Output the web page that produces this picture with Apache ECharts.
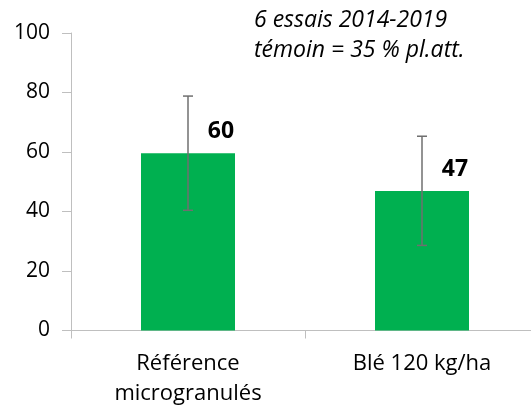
<!DOCTYPE html>
<html>
<head>
<meta charset="utf-8">
<script src="https://cdn.jsdelivr.net/npm/echarts@6/dist/echarts.min.js"></script>
<style>
  html, body { margin: 0; padding: 0; background: #fff; }
  #chart { width: 531px; height: 405px; }
</style>
</head>
<body>
<div id="chart"></div>
<script>
// données
var categories = ['Référence\nmicrogranulés', 'Blé 120 kg/ha'];
var efficacite = [59.6, 46.9];
var labels = ['60', '47'];
var errLow = [40.4, 28.6];
var errHigh = [78.8, 65.3];
var yTicks = [0, 20, 40, 60, 80, 100];

var font = '"Open Sans", "Noto Sans", sans-serif';
var chart = echarts.init(document.getElementById('chart'));

var option = {
    animation: false,
    backgroundColor: '#fff',
    graphic: [{
        type: 'text',
        left: 254,
        top: 5,
        style: {
            text: '6 essais 2014-2019\ntémoin = 35 % pl.att.',
            font: 'italic 23px ' + font,
            lineHeight: 30,
            fill: '#000'
        }
    }],
    grid: { left: 71, right: -8, top: 33, bottom: 74.5, outerBoundsMode: 'none', containLabel: false },
    xAxis: {
        type: 'category',
        data: categories,
        axisLine: { lineStyle: { color: '#bfbfbf', width: 1 } },
        axisTick: { show: true, length: 8, lineStyle: { color: '#bfbfbf' } },
        axisLabel: { color: '#000', fontSize: 22, fontFamily: font, lineHeight: 30, margin: 18 }
    },
    yAxis: {
        type: 'value',
        min: yTicks[0],
        max: yTicks[yTicks.length - 1],
        interval: 20,
        splitLine: { show: false },
        axisLine: { show: true, lineStyle: { color: '#bfbfbf', width: 1 } },
        axisTick: { show: true, length: 9, lineStyle: { color: '#bfbfbf' } },
        axisLabel: { color: '#000', fontSize: 21, fontFamily: font, margin: 21 }
    },
    series: [{
        type: 'bar',
        data: efficacite,
        barWidth: 94,
        itemStyle: { color: '#00b050' },
        label: {
            show: true,
            position: 'top',
            offset: [33, -5],
            formatter: function (p) { return labels[p.dataIndex]; },
            fontSize: 23,
            fontWeight: 'bold',
            fontFamily: font,
            color: '#000'
        }
    }, {
        type: 'custom',
        data: categories.map(function (c, i) { return [i, errLow[i], errHigh[i]]; }),
        z: 10,
        renderItem: function (params, api) {
            var lo = api.coord([api.value(0), api.value(1)]);
            var hi = api.coord([api.value(0), api.value(2)]);
            var w = 5;
            var st = { stroke: '#6f6f6f', lineWidth: 1.5 };
            return {
                type: 'group',
                children: [
                    { type: 'line', shape: { x1: hi[0], y1: hi[1], x2: lo[0], y2: lo[1] }, style: st },
                    { type: 'line', shape: { x1: hi[0] - w, y1: hi[1], x2: hi[0] + w, y2: hi[1] }, style: st },
                    { type: 'line', shape: { x1: lo[0] - w, y1: lo[1], x2: lo[0] + w, y2: lo[1] }, style: st }
                ]
            };
        }
    }]
};

chart.setOption(option);
</script>
</body>
</html>
